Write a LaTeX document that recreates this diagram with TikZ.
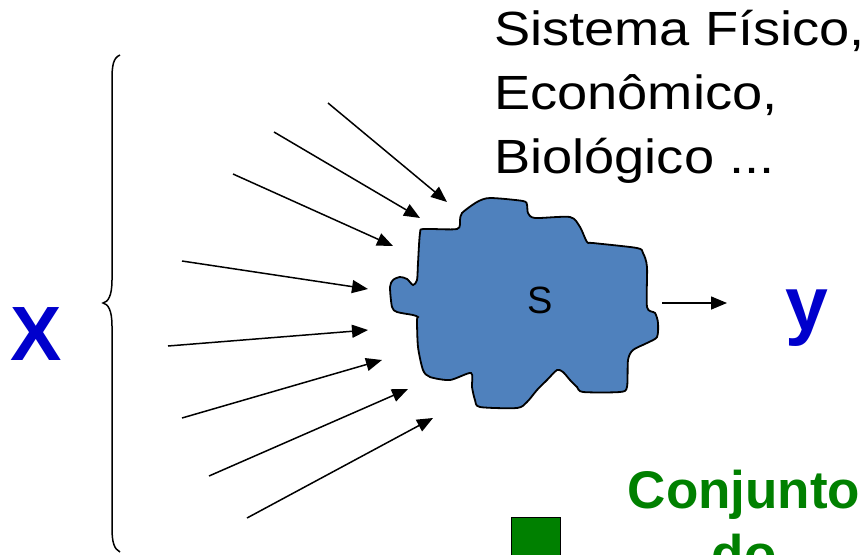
\documentclass[tikz,border=0pt]{standalone}
\usepackage{fontspec}
\setmainfont{Liberation Sans}
\newfontfamily\widefont[FakeStretch=1.13]{Liberation Sans}
\usepackage{tikz}
\usetikzlibrary{arrows.meta}
\definecolor{blobblue}{RGB}{79,129,189}
\definecolor{labelblue}{RGB}{0,0,204}
\definecolor{setgreen}{RGB}{0,128,0}

\begin{document}
\begin{tikzpicture}[x=1pt,y=-1pt]
		\tikzset{
			arrow/.style={-{Triangle[length=16pt,width=13pt]}, line width=1.5pt, black},
			blob/.style={draw=black, line width=1.8pt, fill=blobblue},
			bigvar/.style={font=\fontsize{77}{77}\selectfont\bfseries, text=labelblue, inner sep=0pt},
			caption/.style={font=\widefont\fontsize{48}{64}\selectfont, align=left, inner sep=0pt}
		}
		\useasboundingbox (0,0) rectangle (864,554);

		% the system
		\draw[blob] plot[smooth cycle, tension=0.45] coordinates {
			(420,233) (424,229) (457,229) (460,220) (462,213) (477,202) (490,198)
			(523,201) (527,205) (528,213) (535,218) (570,217) (580,227) (587,242)
			(593,243) (637,248) (643,253) (647,267) (647,307) (655,313) (658,323)
			(657,337) (647,343) (633,350) (628,360) (627,387) (620,392) (583,392)
			(577,387) (570,380) (563,372) (557,370) (547,380) (537,390) (527,402)
			(517,408) (480,407) (475,400) (472,387) (471,373) (450,380) (430,377)
			(423,370) (418,347) (417,320) (418,317) (413,315) (397,312) (392,307)
			(390,287) (393,280) (400,277) (407,279) (413,285) (417,280) (418,263)};
		\node[font=\fontsize{38}{38}\selectfont, inner sep=0pt](sys) at (540,300){S};

		\node[caption, anchor=north west](kind) at (494,10){Sistema Físico,\\Econômico,\\Biológico ...};

		% inputs
		\foreach \i/\sx/\sy/\ex/\ey in {1/328/103/447/202, 2/274/132/420/218, 3/233/174/393/246,
			4/182/261/368/289, 5/168/346/368/330, 6/182/418/382/360, 7/209/476/408/389, 8/247/518/433/418}{
			\coordinate (in\i) at (\sx,\sy);
			\coordinate (tip\i) at (\ex,\ey);
			\draw[arrow] (in\i) -- (tip\i);
		}

		\draw[line width=1.5pt] (120,55) .. controls (113,58) and (112,66) .. (112,80) -- (112,280)
			.. controls (112,296) and (108,302) .. (103,303) .. controls (108,304) and (112,310) .. (112,326)
			-- (112,528) .. controls (112,542) and (114,549) .. (120,552);
		\node[bigvar](x) at (36,334){X};

		% output
		\coordinate (out) at (662,303);
		\coordinate (outtip) at (727,303);
		\draw[arrow] (out) -- (outtip);
		\node[bigvar, anchor=base](y) at (807,330){y};

		\node[draw=black, line width=0.8pt, fill=setgreen, minimum size=49pt, inner sep=0pt, anchor=north west](sq) at (511,517){};
		\node[font=\fontsize{53}{64}\selectfont\bfseries, text=setgreen, align=center, inner sep=0pt, anchor=north](set) at (744,470){Conjunto\\do};
	\end{tikzpicture}
\end{document}
